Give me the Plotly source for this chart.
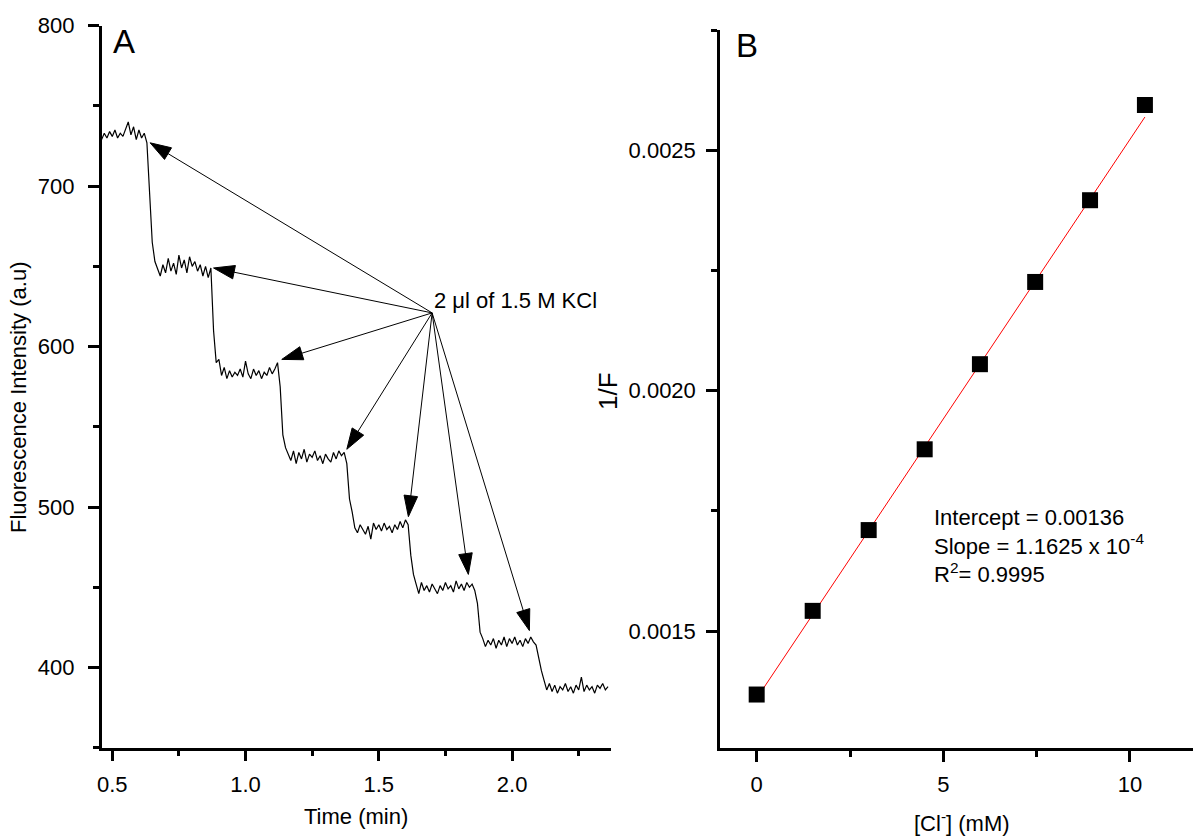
import numpy as np
import plotly.graph_objects as go

# ---------------- Panel A: fluorescence quenching trace ----------------
# Intensity recorded every 0.01 min starting at 0.46 min
SAMPLE_START_MIN = 0.46
SAMPLE_INTERVAL_MIN = 0.01
INTENSITY = [
    # 0.46 - 0.66
    729, 733, 730, 734, 731, 735, 730, 733, 731, 736,
    740, 732, 737, 729, 735, 730, 733, 727, 695, 665,
    653,
    # 0.67 - 0.89
    648, 644, 651, 646, 655, 647, 652, 645, 657, 649,
    654, 646, 656, 650, 653, 647, 651, 644, 650, 643,
    649, 610, 590,
    # 0.90 - 1.14
    592, 582, 587, 580, 585, 581, 584, 582, 586, 581,
    591, 583, 580, 586, 582, 585, 580, 584, 582, 587,
    583, 586, 590, 575, 545,
    # 1.15 - 1.39
    537, 533, 529, 535, 527, 534, 530, 536, 528, 533,
    531, 535, 529, 532, 527, 533, 530, 528, 534, 530,
    535, 532, 534, 527, 505,
    # 1.40 - 1.64
    497, 487, 484, 489, 486, 483, 488, 480, 490, 486,
    489, 485, 490, 486, 488, 484, 489, 486, 491, 487,
    492, 489, 470, 458, 452,
    # 1.65 - 1.89
    446, 453, 448, 451, 447, 452, 449, 446, 451, 448,
    453, 449, 451, 447, 454, 449, 452, 448, 453, 450,
    452, 448, 440, 422, 418,
    # 1.90 - 2.13
    413, 417, 414, 418, 412, 417, 414, 419, 413, 418,
    415, 419, 414, 417, 413, 418, 415, 419, 416, 414,
    405, 398, 392, 386,
    # 2.14 - 2.36
    390, 385, 389, 384, 388, 386, 390, 385, 388, 384,
    389, 386, 394, 385, 389, 386, 388, 384, 389, 387,
    390, 386, 388,
]
TIME_MIN = np.round(SAMPLE_START_MIN + SAMPLE_INTERVAL_MIN * np.arange(len(INTENSITY)), 2)

# KCl additions: arrows from the label to each step
ARROW_ORIGIN = (1.70, 621)
ARROW_TIP_TIME = [0.642, 0.880, 1.136, 1.380, 1.611, 1.836, 2.065]
ARROW_TIP_INTENSITY = [727, 649, 592, 536, 494, 458, 423]
ADDITION_LABEL = "2 \u03bcl of 1.5 M KCl"

# ---------------- Panel B: Stern-Volmer style plot ----------------
CL_MM = [0, 1.5, 3.0, 4.5, 5.98, 7.46, 8.93, 10.4]
INV_F = [0.001368, 0.001542, 0.00171, 0.001878, 0.002055, 0.002226, 0.002396, 0.002594]
FIT_INTERCEPT = 0.00136
FIT_SLOPE = 1.1625e-4
FIT_R2 = 0.9995

W, H = 1196, 840
FONT = "Liberation Sans, Arial, sans-serif"


def fx(p):
    return p / W


def fy(p):
    return 1 - p / H


fig = go.Figure()

fig.add_trace(go.Scatter(
    x=TIME_MIN, y=INTENSITY, mode="lines",
    line=dict(color="black", width=1.2),
    xaxis="x", yaxis="y", hoverinfo="skip",
))

for tt, ti in zip(ARROW_TIP_TIME, ARROW_TIP_INTENSITY):
    fig.add_trace(go.Scatter(
        x=[ARROW_ORIGIN[0], tt], y=[ARROW_ORIGIN[1], ti],
        mode="lines+markers",
        line=dict(color="black", width=1),
        marker=dict(symbol="arrow", size=[0, 22], angleref="previous",
                    color="#000000", opacity=1,
                    line=dict(color="#000000", width=1)),
        xaxis="x", yaxis="y", hoverinfo="skip",
    ))

fit_x = np.array([CL_MM[0], CL_MM[-1]])
fig.add_trace(go.Scatter(
    x=fit_x, y=FIT_INTERCEPT + FIT_SLOPE * fit_x, mode="lines",
    line=dict(color="red", width=1),
    xaxis="x2", yaxis="y2", hoverinfo="skip",
))
fig.add_trace(go.Scatter(
    x=CL_MM, y=INV_F, mode="markers",
    marker=dict(symbol="square", size=16, color="black", line=dict(width=0)),
    xaxis="x2", yaxis="y2",
))

axis_style = dict(
    showline=True, linecolor="black", linewidth=2.5,
    ticks="outside", ticklen=11, tickwidth=2.5, tickcolor="black",
    showgrid=False, zeroline=False,
    tickfont=dict(family=FONT, size=22, color="black"),
)


def minor(d):
    return dict(dtick=d, ticks="outside", ticklen=6, tickwidth=2.5, tickcolor="black")


fig.update_layout(
    width=W, height=H,
    margin=dict(l=0, r=0, t=0, b=0, autoexpand=False),
    paper_bgcolor="white", plot_bgcolor="white",
    showlegend=False,
    font=dict(family=FONT, size=22, color="black"),
    xaxis=dict(domain=[fx(101.6), fx(610.7)], range=[0.46, 2.37], anchor="y",
               dtick=0.5, tick0=0, tickformat=".1f", minor=minor(0.25),
               ticklabelstandoff=4, **axis_style),
    yaxis=dict(domain=[fy(747.7), fy(25.7)], range=[350, 800], anchor="x",
               dtick=100, tick0=0, minor=minor(50), ticklabelstandoff=9, **axis_style),
    xaxis2=dict(domain=[fx(720), fx(1193)], range=[-0.983, 11.688], anchor="y2",
                dtick=5, tick0=0, minor=minor(2.5), ticklabelstandoff=4, **axis_style),
    yaxis2=dict(domain=[fy(748), fy(30)], range=[0.0012568, 0.00275], anchor="x2",
                dtick=0.0005, tick0=0, tickformat=".4f", minor=minor(0.00025),
                ticklabelstandoff=6, **axis_style),
)

annotations = [
    dict(text="Time (min)", x=fx(356), y=fy(816), xref="paper", yref="paper",
         xanchor="center", yanchor="middle", showarrow=False),
    dict(text="Fluorescence Intensity (a.u)", x=fx(18), y=fy(398), xref="paper", yref="paper",
         xanchor="center", yanchor="middle", textangle=-90, showarrow=False),
    dict(text="[Cl<sup>-</sup>] (mM)", x=fx(962), y=fy(822), xref="paper", yref="paper",
         xanchor="center", yanchor="middle", showarrow=False),
    dict(text="1/F", x=fx(608), y=fy(391), xref="paper", yref="paper",
         xanchor="center", yanchor="middle", textangle=-90, showarrow=False,
         font=dict(size=26)),
    dict(text="A", x=fx(111), y=fy(41), xref="paper", yref="paper",
         xanchor="left", yanchor="middle", showarrow=False, font=dict(size=33)),
    dict(text="B", x=fx(734), y=fy(45), xref="paper", yref="paper",
         xanchor="left", yanchor="middle", showarrow=False, font=dict(size=33)),
    dict(text=ADDITION_LABEL, x=1.698, y=629, xref="x", yref="y",
         xanchor="left", yanchor="middle", showarrow=False),
    dict(text=(f"Intercept = {FIT_INTERCEPT:.5f}<br>"
               f"Slope = {FIT_SLOPE * 1e4:.4f} x 10<sup>-4</sup><br>"
               f"R<sup>2</sup>= {FIT_R2}"),
         x=fx(932), y=fy(546), xref="paper", yref="paper",
         xanchor="left", yanchor="middle", align="left", showarrow=False),
]
fig.update_layout(annotations=annotations)

fig.write_html("out.html")
